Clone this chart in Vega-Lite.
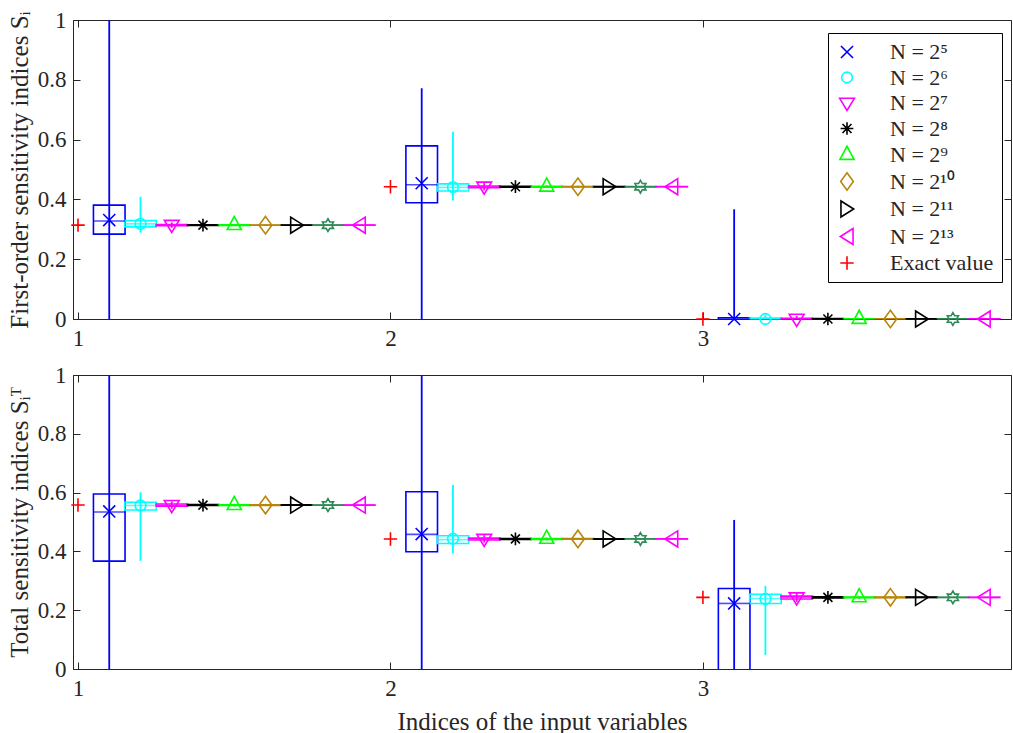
{
  "$schema": "https://vega.github.io/schema/vega-lite/v6.json",
  "padding": {"left": 6, "top": 8, "right": 0, "bottom": 0},
  "spacing": 56,
  "bounds": "flush",
  "config": {
    "font": "Liberation Serif",
    "view": {"stroke": "#262626", "strokeWidth": 1},
    "axis": {
      "grid": false,
      "labelFont": "Liberation Serif",
      "labelFontSize": 23,
      "labelColor": "#262626",
      "titleFont": "Liberation Serif",
      "titleFontSize": 25,
      "titleFontWeight": "normal",
      "titleColor": "#262626",
      "domainColor": "#262626",
      "tickColor": "#262626",
      "labelFlush": false,
      "labelOverlap": false
    },
    "legend": {
      "orient": "none", "legendX": 755, "legendY": 13, "title": null,
      "fillColor": "white", "strokeColor": "#000000", "padding": 8,
      "labelFont": "Liberation Serif", "labelFontSize": 22, "labelColor": "#262626",
      "symbolSize": 180, "symbolStrokeWidth": 1.6, "rowPadding": 3.5, "labelOffset": 32
    }
  },
  "resolve": {"scale": {"color": "independent", "shape": "independent", "stroke": "independent", "fill": "independent"}, "legend": {"color": "independent", "shape": "independent"}},
  "datasets": {
    "first": [
      {"v": 1, "x": 1.1, "series": "N = 2⁵", "wlo": -0.2, "whi": 1.2, "q1": 0.284, "q3": 0.381, "med": 0.328, "m": 0.331},
      {"v": 1, "x": 1.2, "series": "N = 2⁶", "wlo": 0.289, "whi": 0.409, "q1": 0.308, "q3": 0.329, "med": 0.318, "m": 0.318},
      {"v": 1, "x": 1.3, "series": "N = 2⁷", "wlo": 0.305, "whi": 0.323, "q1": 0.312, "q3": 0.316, "med": 0.314, "m": 0.314},
      {"v": 1, "x": 1.4, "series": "N = 2⁸", "wlo": 0.309, "whi": 0.319, "q1": 0.3128, "q3": 0.315, "med": 0.3139, "m": 0.3139},
      {"v": 1, "x": 1.5, "series": "N = 2⁹", "wlo": 0.311, "whi": 0.317, "q1": 0.313, "q3": 0.3148, "med": 0.3139, "m": 0.3139},
      {"v": 1, "x": 1.6, "series": "N = 2¹⁰", "wlo": 0.312, "whi": 0.316, "q1": 0.3133, "q3": 0.3145, "med": 0.3139, "m": 0.3139},
      {"v": 1, "x": 1.7, "series": "N = 2¹¹", "wlo": 0.3128, "whi": 0.315, "q1": 0.3135, "q3": 0.3143, "med": 0.3139, "m": 0.3139},
      {"v": 1, "x": 1.8, "series": "N = 2¹²", "wlo": 0.3132, "whi": 0.3146, "q1": 0.3136, "q3": 0.3142, "med": 0.3139, "m": 0.3139},
      {"v": 1, "x": 1.9, "series": "N = 2¹³", "wlo": 0.3135, "whi": 0.3143, "q1": 0.3137, "q3": 0.3141, "med": 0.3139, "m": 0.3139},
      {"v": 2, "x": 2.1, "series": "N = 2⁵", "wlo": -0.2, "whi": 0.772, "q1": 0.389, "q3": 0.579, "med": 0.449, "m": 0.454},
      {"v": 2, "x": 2.2, "series": "N = 2⁶", "wlo": 0.396, "whi": 0.626, "q1": 0.428, "q3": 0.452, "med": 0.44, "m": 0.441},
      {"v": 2, "x": 2.3, "series": "N = 2⁷", "wlo": 0.43, "whi": 0.455, "q1": 0.439, "q3": 0.445, "med": 0.442, "m": 0.442},
      {"v": 2, "x": 2.4, "series": "N = 2⁸", "wlo": 0.436, "whi": 0.449, "q1": 0.4408, "q3": 0.444, "med": 0.4424, "m": 0.4424},
      {"v": 2, "x": 2.5, "series": "N = 2⁹", "wlo": 0.438, "whi": 0.447, "q1": 0.441, "q3": 0.4438, "med": 0.4424, "m": 0.4424},
      {"v": 2, "x": 2.6, "series": "N = 2¹⁰", "wlo": 0.4395, "whi": 0.4455, "q1": 0.4415, "q3": 0.4433, "med": 0.4424, "m": 0.4424},
      {"v": 2, "x": 2.7, "series": "N = 2¹¹", "wlo": 0.4405, "whi": 0.4445, "q1": 0.4418, "q3": 0.443, "med": 0.4424, "m": 0.4424},
      {"v": 2, "x": 2.8, "series": "N = 2¹²", "wlo": 0.441, "whi": 0.4438, "q1": 0.442, "q3": 0.4428, "med": 0.4424, "m": 0.4424},
      {"v": 2, "x": 2.9, "series": "N = 2¹³", "wlo": 0.4415, "whi": 0.4433, "q1": 0.4421, "q3": 0.4427, "med": 0.4424, "m": 0.4424},
      {"v": 3, "x": 3.1, "series": "N = 2⁵", "wlo": -0.3, "whi": 0.367, "q1": -0.004, "q3": 0.004, "med": 0, "m": 0},
      {"v": 3, "x": 3.2, "series": "N = 2⁶", "wlo": -0.015, "whi": 0.015, "q1": -0.003, "q3": 0.003, "med": 0, "m": 0},
      {"v": 3, "x": 3.3, "series": "N = 2⁷", "wlo": -0.01, "whi": 0.01, "q1": -0.002, "q3": 0.002, "med": 0, "m": 0},
      {"v": 3, "x": 3.4, "series": "N = 2⁸", "wlo": -0.006, "whi": 0.006, "q1": -0.0015, "q3": 0.0015, "med": 0, "m": 0},
      {"v": 3, "x": 3.5, "series": "N = 2⁹", "wlo": -0.004, "whi": 0.004, "q1": -0.001, "q3": 0.001, "med": 0, "m": 0},
      {"v": 3, "x": 3.6, "series": "N = 2¹⁰", "wlo": -0.003, "whi": 0.003, "q1": -0.001, "q3": 0.001, "med": 0, "m": 0},
      {"v": 3, "x": 3.7, "series": "N = 2¹¹", "wlo": -0.002, "whi": 0.002, "q1": -0.0005, "q3": 0.0005, "med": 0, "m": 0},
      {"v": 3, "x": 3.8, "series": "N = 2¹²", "wlo": -0.0015, "whi": 0.0015, "q1": -0.0004, "q3": 0.0004, "med": 0, "m": 0},
      {"v": 3, "x": 3.9, "series": "N = 2¹³", "wlo": -0.001, "whi": 0.001, "q1": -0.0003, "q3": 0.0003, "med": 0, "m": 0}
    ],
    "total": [
      {"v": 1, "x": 1.1, "series": "N = 2⁵", "wlo": -0.2, "whi": 1.2, "q1": 0.367, "q3": 0.595, "med": 0.534, "m": 0.536},
      {"v": 1, "x": 1.2, "series": "N = 2⁶", "wlo": 0.368, "whi": 0.601, "q1": 0.541, "q3": 0.567, "med": 0.556, "m": 0.556},
      {"v": 1, "x": 1.3, "series": "N = 2⁷", "wlo": 0.545, "whi": 0.57, "q1": 0.554, "q3": 0.561, "med": 0.557, "m": 0.557},
      {"v": 1, "x": 1.4, "series": "N = 2⁸", "wlo": 0.551, "whi": 0.564, "q1": 0.556, "q3": 0.5592, "med": 0.5576, "m": 0.5576},
      {"v": 1, "x": 1.5, "series": "N = 2⁹", "wlo": 0.553, "whi": 0.562, "q1": 0.5563, "q3": 0.5589, "med": 0.5576, "m": 0.5576},
      {"v": 1, "x": 1.6, "series": "N = 2¹⁰", "wlo": 0.5545, "whi": 0.5605, "q1": 0.5566, "q3": 0.5586, "med": 0.5576, "m": 0.5576},
      {"v": 1, "x": 1.7, "series": "N = 2¹¹", "wlo": 0.5555, "whi": 0.5597, "q1": 0.557, "q3": 0.5582, "med": 0.5576, "m": 0.5576},
      {"v": 1, "x": 1.8, "series": "N = 2¹²", "wlo": 0.5562, "whi": 0.559, "q1": 0.5572, "q3": 0.558, "med": 0.5576, "m": 0.5576},
      {"v": 1, "x": 1.9, "series": "N = 2¹³", "wlo": 0.5567, "whi": 0.5585, "q1": 0.5573, "q3": 0.5579, "med": 0.5576, "m": 0.5576},
      {"v": 2, "x": 2.1, "series": "N = 2⁵", "wlo": -0.2, "whi": 1.2, "q1": 0.399, "q3": 0.603, "med": 0.458, "m": 0.459},
      {"v": 2, "x": 2.2, "series": "N = 2⁶", "wlo": 0.393, "whi": 0.626, "q1": 0.427, "q3": 0.453, "med": 0.44, "m": 0.443},
      {"v": 2, "x": 2.3, "series": "N = 2⁷", "wlo": 0.43, "whi": 0.455, "q1": 0.439, "q3": 0.445, "med": 0.442, "m": 0.442},
      {"v": 2, "x": 2.4, "series": "N = 2⁸", "wlo": 0.436, "whi": 0.449, "q1": 0.4408, "q3": 0.444, "med": 0.4424, "m": 0.4424},
      {"v": 2, "x": 2.5, "series": "N = 2⁹", "wlo": 0.438, "whi": 0.447, "q1": 0.441, "q3": 0.4438, "med": 0.4424, "m": 0.4424},
      {"v": 2, "x": 2.6, "series": "N = 2¹⁰", "wlo": 0.4395, "whi": 0.4455, "q1": 0.4415, "q3": 0.4433, "med": 0.4424, "m": 0.4424},
      {"v": 2, "x": 2.7, "series": "N = 2¹¹", "wlo": 0.4405, "whi": 0.4445, "q1": 0.4418, "q3": 0.443, "med": 0.4424, "m": 0.4424},
      {"v": 2, "x": 2.8, "series": "N = 2¹²", "wlo": 0.441, "whi": 0.4438, "q1": 0.442, "q3": 0.4428, "med": 0.4424, "m": 0.4424},
      {"v": 2, "x": 2.9, "series": "N = 2¹³", "wlo": 0.4415, "whi": 0.4433, "q1": 0.4421, "q3": 0.4427, "med": 0.4424, "m": 0.4424},
      {"v": 3, "x": 3.1, "series": "N = 2⁵", "wlo": -0.2, "whi": 0.507, "q1": -0.05, "q3": 0.274, "med": 0.223, "m": 0.223},
      {"v": 3, "x": 3.2, "series": "N = 2⁶", "wlo": 0.048, "whi": 0.283, "q1": 0.223, "q3": 0.254, "med": 0.24, "m": 0.238},
      {"v": 3, "x": 3.3, "series": "N = 2⁷", "wlo": 0.228, "whi": 0.258, "q1": 0.238, "q3": 0.248, "med": 0.244, "m": 0.243},
      {"v": 3, "x": 3.4, "series": "N = 2⁸", "wlo": 0.236, "whi": 0.251, "q1": 0.242, "q3": 0.2455, "med": 0.2437, "m": 0.2437},
      {"v": 3, "x": 3.5, "series": "N = 2⁹", "wlo": 0.239, "whi": 0.248, "q1": 0.2423, "q3": 0.245, "med": 0.2437, "m": 0.2437},
      {"v": 3, "x": 3.6, "series": "N = 2¹⁰", "wlo": 0.2405, "whi": 0.2468, "q1": 0.2425, "q3": 0.2448, "med": 0.2437, "m": 0.2437},
      {"v": 3, "x": 3.7, "series": "N = 2¹¹", "wlo": 0.2415, "whi": 0.2458, "q1": 0.243, "q3": 0.2444, "med": 0.2437, "m": 0.2437},
      {"v": 3, "x": 3.8, "series": "N = 2¹²", "wlo": 0.2422, "whi": 0.2452, "q1": 0.2432, "q3": 0.2442, "med": 0.2437, "m": 0.2437},
      {"v": 3, "x": 3.9, "series": "N = 2¹³", "wlo": 0.2427, "whi": 0.2447, "q1": 0.2434, "q3": 0.244, "med": 0.2437, "m": 0.2437}
    ],
    "exactFirst": [
      {"x": 1, "series": "Exact value", "m": 0.3139},
      {"x": 2, "series": "Exact value", "m": 0.4424},
      {"x": 3, "series": "Exact value", "m": 0}
    ],
    "exactTotal": [
      {"x": 1, "series": "Exact value", "m": 0.5576},
      {"x": 2, "series": "Exact value", "m": 0.4424},
      {"x": 3, "series": "Exact value", "m": 0.2437}
    ]
  },
  "vconcat": [
    {
      "width": 938,
      "height": 299,
      "resolve": {"axis": {"x": "independent", "y": "independent"}},
      "layer": [
        {
          "data": {"name": "first"},
          "mark": {"type": "rule", "clip": true, "strokeWidth": 1.8},
          "encoding": {
            "x": {"field": "x", "type": "quantitative", "scale": {"domain": [1, 3.97], "nice": false, "zero": false},
                  "axis": {"orient": "bottom", "values": [1, 2, 3], "format": "d", "tickSize": -7, "labelPadding": 15, "title": null}},
            "y": {"field": "wlo", "type": "quantitative", "scale": {"domain": [0, 1], "nice": false, "zero": false},
                  "axis": {"orient": "left", "values": [0, 0.2, 0.4, 0.6, 0.8, 1], "format": "~g", "tickSize": -7, "labelPadding": 14, "title": "First-order sensitivity indices Sᵢ", "titlePadding": 5}},
            "y2": {"field": "whi"},
            "stroke": {"field": "series", "type": "nominal", "legend": null,
                      "scale": {"domain": ["N = 2⁵", "N = 2⁶", "N = 2⁷", "N = 2⁸", "N = 2⁹", "N = 2¹⁰", "N = 2¹¹", "N = 2¹²", "N = 2¹³"],
                                "range": ["#0000ff", "#00ffff", "#ff00ff", "#000000", "#00ff00", "#b8860b", "#000000", "#2e8b57", "#ff00ff"]}}
          }
        },
        {
          "data": {"name": "first"},
          "mark": {"type": "bar", "clip": true, "fill": "transparent", "width": 31.6, "strokeWidth": 1.6},
          "encoding": {
            "x": {"field": "x", "type": "quantitative", "axis": {"orient": "top", "values": [1, 2, 3], "labels": false, "domain": false, "tickSize": -7, "title": null}},
            "y": {"field": "q1", "type": "quantitative", "axis": {"orient": "right", "values": [0, 0.2, 0.4, 0.6, 0.8, 1], "labels": false, "domain": false, "tickSize": -7, "title": null}},
            "y2": {"field": "q3"},
            "stroke": {"field": "series", "type": "nominal", "legend": null}
          }
        },
        {
          "data": {"name": "first"},
          "mark": {"type": "tick", "orient": "horizontal", "size": 31.6, "thickness": 1.6},
          "encoding": {
            "x": {"field": "x", "type": "quantitative", "axis": null},
            "y": {"field": "med", "type": "quantitative", "axis": null},
            "fill": {"field": "series", "type": "nominal", "legend": null,
                      "scale": {"domain": ["N = 2⁵", "N = 2⁶", "N = 2⁷", "N = 2⁸", "N = 2⁹", "N = 2¹⁰", "N = 2¹¹", "N = 2¹²", "N = 2¹³", "x"],
                                "range": ["#0000ff", "#00ffff", "#ff00ff", "#000000", "#00ff00", "#b8860b", "#000000", "#2e8b57", "#ff00ff", "#ff0000"]}}
          }
        },
        {
          "data": {"name": "first"},
          "mark": {"type": "point", "filled": false, "size": 180, "strokeWidth": 1.6, "opacity": 1},
          "encoding": {
            "x": {"field": "x", "type": "quantitative", "axis": null},
            "y": {"field": "m", "type": "quantitative", "axis": null},
            "color": {"field": "series", "type": "nominal",
                      "legend": {"values": ["N = 2⁵", "N = 2⁶", "N = 2⁷", "N = 2⁸", "N = 2⁹", "N = 2¹⁰", "N = 2¹¹", "N = 2¹³", "Exact value"]},
                      "scale": {"domain": ["N = 2⁵", "N = 2⁶", "N = 2⁷", "N = 2⁸", "N = 2⁹", "N = 2¹⁰", "N = 2¹¹", "N = 2¹²", "N = 2¹³", "Exact value"],
                                "range": ["#0000ff", "#00ffff", "#ff00ff", "#000000", "#00ff00", "#b8860b", "#000000", "#2e8b57", "#ff00ff", "#ff0000"]}},
            "shape": {"field": "series", "type": "nominal",
                      "legend": {"values": ["N = 2⁵", "N = 2⁶", "N = 2⁷", "N = 2⁸", "N = 2⁹", "N = 2¹⁰", "N = 2¹¹", "N = 2¹³", "Exact value"]},
                      "scale": {"domain": ["N = 2⁵", "N = 2⁶", "N = 2⁷", "N = 2⁸", "N = 2⁹", "N = 2¹⁰", "N = 2¹¹", "N = 2¹²", "N = 2¹³", "Exact value"],
                                "range": ["M-0.9,-0.9L0.9,0.9M-0.9,0.9L0.9,-0.9", "M0.8,0A0.8,0.8 0 1,1 -0.8,0A0.8,0.8 0 1,1 0.8,0Z", "M-1.1,-0.7L1.1,-0.7L0,1.1Z", "M-0.95,0L0.95,0M0,-0.95L0,0.95M-0.67,-0.67L0.67,0.67M-0.67,0.67L0.67,-0.67", "M-1.05,0.65L1.05,0.65L0,-1.3Z", "M0,-1.3L0.95,0L0,1.3L-0.95,0Z", "M-0.9,-1.2L1,0L-0.9,1.2Z", "M0,-0.95L0.275,-0.475L0.823,-0.475L0.548,0L0.823,0.475L0.275,0.475L0,0.95L-0.275,0.475L-0.823,0.475L-0.548,0L-0.823,-0.475L-0.275,-0.475Z", "M0.9,-1.2L-1,0L0.9,1.2Z", "M-1,0L1,0M0,-1L0,1"]}}
          }
        },
        {
          "data": {"name": "exactFirst"},
          "mark": {"type": "point", "filled": false, "size": 180, "strokeWidth": 1.6, "opacity": 1},
          "encoding": {
            "x": {"field": "x", "type": "quantitative", "axis": null},
            "y": {"field": "m", "type": "quantitative", "axis": null},
            "color": {"field": "series", "type": "nominal",
                      "legend": {"values": ["N = 2⁵", "N = 2⁶", "N = 2⁷", "N = 2⁸", "N = 2⁹", "N = 2¹⁰", "N = 2¹¹", "N = 2¹³", "Exact value"]}},
            "shape": {"field": "series", "type": "nominal",
                      "legend": {"values": ["N = 2⁵", "N = 2⁶", "N = 2⁷", "N = 2⁸", "N = 2⁹", "N = 2¹⁰", "N = 2¹¹", "N = 2¹³", "Exact value"]}}
          }
        }
      ]
    },
    {
      "width": 938,
      "height": 294,
      "resolve": {"axis": {"x": "independent", "y": "independent"}},
      "layer": [
        {
          "data": {"name": "total"},
          "mark": {"type": "rule", "clip": true, "strokeWidth": 1.8},
          "encoding": {
            "x": {"field": "x", "type": "quantitative", "scale": {"domain": [1, 3.97], "nice": false, "zero": false},
                  "axis": {"orient": "bottom", "values": [1, 2, 3], "format": "d", "tickSize": -7, "labelPadding": 15, "title": "Indices of the input variables", "titlePadding": 9}},
            "y": {"field": "wlo", "type": "quantitative", "scale": {"domain": [0, 1], "nice": false, "zero": false},
                  "axis": {"orient": "left", "values": [0, 0.2, 0.4, 0.6, 0.8, 1], "format": "~g", "tickSize": -7, "labelPadding": 14, "title": "Total sensitivity indices Sᵢᵀ", "titlePadding": 5}},
            "y2": {"field": "whi"},
            "stroke": {"field": "series", "type": "nominal", "legend": null,
                      "scale": {"domain": ["N = 2⁵", "N = 2⁶", "N = 2⁷", "N = 2⁸", "N = 2⁹", "N = 2¹⁰", "N = 2¹¹", "N = 2¹²", "N = 2¹³"],
                                "range": ["#0000ff", "#00ffff", "#ff00ff", "#000000", "#00ff00", "#b8860b", "#000000", "#2e8b57", "#ff00ff"]}}
          }
        },
        {
          "data": {"name": "total"},
          "mark": {"type": "bar", "clip": true, "fill": "transparent", "width": 31.6, "strokeWidth": 1.6},
          "encoding": {
            "x": {"field": "x", "type": "quantitative", "axis": {"orient": "top", "values": [1, 2, 3], "labels": false, "domain": false, "tickSize": -7, "title": null}},
            "y": {"field": "q1", "type": "quantitative", "axis": {"orient": "right", "values": [0, 0.2, 0.4, 0.6, 0.8, 1], "labels": false, "domain": false, "tickSize": -7, "title": null}},
            "y2": {"field": "q3"},
            "stroke": {"field": "series", "type": "nominal", "legend": null}
          }
        },
        {
          "data": {"name": "total"},
          "mark": {"type": "tick", "orient": "horizontal", "size": 31.6, "thickness": 1.6},
          "encoding": {
            "x": {"field": "x", "type": "quantitative", "axis": null},
            "y": {"field": "med", "type": "quantitative", "axis": null},
            "fill": {"field": "series", "type": "nominal", "legend": null,
                      "scale": {"domain": ["N = 2⁵", "N = 2⁶", "N = 2⁷", "N = 2⁸", "N = 2⁹", "N = 2¹⁰", "N = 2¹¹", "N = 2¹²", "N = 2¹³", "x"],
                                "range": ["#0000ff", "#00ffff", "#ff00ff", "#000000", "#00ff00", "#b8860b", "#000000", "#2e8b57", "#ff00ff", "#ff0000"]}}
          }
        },
        {
          "data": {"name": "total"},
          "mark": {"type": "point", "filled": false, "size": 180, "strokeWidth": 1.6, "opacity": 1},
          "encoding": {
            "x": {"field": "x", "type": "quantitative", "axis": null},
            "y": {"field": "m", "type": "quantitative", "axis": null},
            "color": {"field": "series", "type": "nominal", "legend": null,
                      "scale": {"domain": ["N = 2⁵", "N = 2⁶", "N = 2⁷", "N = 2⁸", "N = 2⁹", "N = 2¹⁰", "N = 2¹¹", "N = 2¹²", "N = 2¹³", "Exact value"],
                                "range": ["#0000ff", "#00ffff", "#ff00ff", "#000000", "#00ff00", "#b8860b", "#000000", "#2e8b57", "#ff00ff", "#ff0000"]}},
            "shape": {"field": "series", "type": "nominal", "legend": null,
                      "scale": {"domain": ["N = 2⁵", "N = 2⁶", "N = 2⁷", "N = 2⁸", "N = 2⁹", "N = 2¹⁰", "N = 2¹¹", "N = 2¹²", "N = 2¹³", "Exact value"],
                                "range": ["M-0.9,-0.9L0.9,0.9M-0.9,0.9L0.9,-0.9", "M0.8,0A0.8,0.8 0 1,1 -0.8,0A0.8,0.8 0 1,1 0.8,0Z", "M-1.1,-0.7L1.1,-0.7L0,1.1Z", "M-0.95,0L0.95,0M0,-0.95L0,0.95M-0.67,-0.67L0.67,0.67M-0.67,0.67L0.67,-0.67", "M-1.05,0.65L1.05,0.65L0,-1.3Z", "M0,-1.3L0.95,0L0,1.3L-0.95,0Z", "M-0.9,-1.2L1,0L-0.9,1.2Z", "M0,-0.95L0.275,-0.475L0.823,-0.475L0.548,0L0.823,0.475L0.275,0.475L0,0.95L-0.275,0.475L-0.823,0.475L-0.548,0L-0.823,-0.475L-0.275,-0.475Z", "M0.9,-1.2L-1,0L0.9,1.2Z", "M-1,0L1,0M0,-1L0,1"]}}
          }
        },
        {
          "data": {"name": "exactTotal"},
          "mark": {"type": "point", "filled": false, "size": 180, "strokeWidth": 1.6, "opacity": 1},
          "encoding": {
            "x": {"field": "x", "type": "quantitative", "axis": null},
            "y": {"field": "m", "type": "quantitative", "axis": null},
            "color": {"field": "series", "type": "nominal", "legend": null},
            "shape": {"field": "series", "type": "nominal", "legend": null}
          }
        }
      ]
    }
  ]
}
